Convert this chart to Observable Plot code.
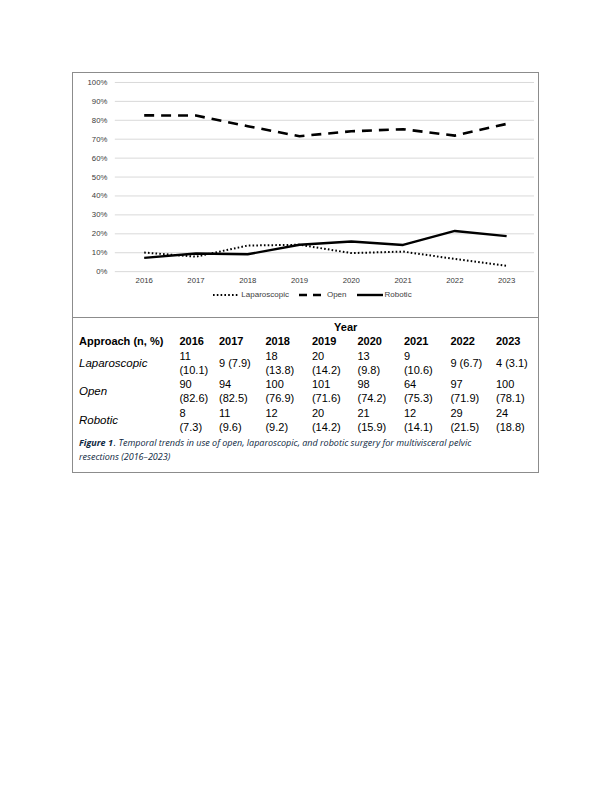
<!DOCTYPE html>
<html>
<head>
<meta charset="utf-8">
<script src="https://cdn.jsdelivr.net/npm/d3@7"></script>
<script src="https://cdn.jsdelivr.net/npm/@observablehq/plot@0.6"></script>
<style>
  html, body { margin: 0; padding: 0; background: #fff; }
  body { width: 612px; height: 792px; position: relative; font-family: "Liberation Sans", Arial, sans-serif; }
  #box { position: absolute; left: 72px; top: 72px; width: 467px; height: 401px; border: 1px solid #8c8c8c; box-sizing: border-box; }
  #chartArea { position: relative; height: 245px; border-bottom: 1px solid #8c8c8c; box-sizing: border-box; }
  #legend { position: absolute; top: 217px; left: 0; width: 100%; display: flex; justify-content: center; padding-left: 14px; box-sizing: border-box; font-size: 8px; color: #404040; gap: 10px; align-items: center; }
  #legend .item { display: flex; align-items: center; gap: 2px; }
  #tableArea { padding: 2px 6px 0 6px; color: #000; }
  table { border-collapse: collapse; table-layout: fixed; font-family: "Liberation Sans", Arial, sans-serif; font-size: 11px; line-height: 14.3px; }
  td, th { padding: 0; text-align: left; vertical-align: middle; }
  th { font-weight: bold; font-size: 11px; }
  td.lab { font-style: italic; font-size: 11.5px; }
  td .c { white-space: normal; }
  #caption { font-family: "Open Sans", sans-serif; font-style: italic; font-size: 9px; line-height: 13.5px; color: #0e2841; margin-top: 2px; }
  #caption div { white-space: nowrap; }
  #caption b { margin-right: 1px; }
</style>
</head>
<body>
<div id="box">
  <div id="chartArea"><div id="legend"></div></div>
  <div id="tableArea"></div>
</div>
<script>
const years = [2016, 2017, 2018, 2019, 2020, 2021, 2022, 2023];
const approaches = ["Laparoscopic", "Open", "Robotic"];
const lapN = [11, 9, 18, 20, 13, 9, 9, 4];
const lapPct = [10.1, 7.9, 13.8, 14.2, 9.8, 10.6, 6.7, 3.1];
const openN = [90, 94, 100, 101, 98, 64, 97, 100];
const openPct = [82.6, 82.5, 76.9, 71.6, 74.2, 75.3, 71.9, 78.1];
const robN = [8, 11, 12, 20, 21, 12, 29, 24];
const robPct = [7.3, 9.6, 9.2, 14.2, 15.9, 14.1, 21.5, 18.8];
const yTicks = [0, 0.1, 0.2, 0.3, 0.4, 0.5, 0.6, 0.7, 0.8, 0.9, 1.0];
const captionBold = "Figure 1";
const captionLine1 = ". Temporal trends in use of open, laparoscopic, and robotic surgery for multivisceral pelvic";
const captionLine2 = "resections (2016\u20132023)";

const styles = {
  Laparoscopic: { dash: "1.6,2.2", width: 2, cap: "butt" },
  Open: { dash: "10,7", width: 2.6, cap: "butt" },
  Robotic: { dash: null, width: 2.4, cap: "butt" }
};

const seriesN = { Laparoscopic: lapN, Open: openN, Robotic: robN };
const seriesPct = { Laparoscopic: lapPct, Open: openPct, Robotic: robPct };

const rows = [];
for (const a of approaches) {
  years.forEach((y, i) => rows.push({ approach: a, year: String(y), value: seriesPct[a][i] / 100 }));
}

const lineMarks = approaches.map(a => Plot.line(rows.filter(d => d.approach === a), {
  x: "year", y: "value", stroke: "#000",
  strokeWidth: styles[a].width,
  strokeDasharray: styles[a].dash || undefined,
  strokeLinecap: styles[a].cap,
  strokeLinejoin: "round"
}));

const chart = Plot.plot({
  width: 467,
  height: 217,
  marginLeft: 42,
  marginRight: 4,
  marginTop: 9,
  marginBottom: 18,
  style: { fontFamily: "Liberation Sans, Arial, sans-serif", fontSize: "7.8px", color: "#3a3a3a", background: "transparent" },
  x: { type: "point", domain: years.map(String), padding: 0.5, label: null, tickSize: 0, tickPadding: 6 },
  y: { domain: [0, 1], ticks: yTicks, tickFormat: d3.format(".0%"), label: null, tickSize: 0, tickPadding: 8 },
  marks: [
    Plot.gridY(yTicks, { stroke: "#d9d9d9", strokeOpacity: 1, strokeWidth: 1 }),
    ...lineMarks,
    Plot.axisX({ tickSize: 0, tickPadding: 6, label: null }),
    Plot.axisY(yTicks, { tickSize: 0, tickPadding: 8, tickFormat: d3.format(".0%"), label: null })
  ]
});
document.getElementById("chartArea").prepend(chart);

// Legend
const legend = document.getElementById("legend");
for (const a of approaches) {
  const item = document.createElement("div");
  item.className = "item";
  const s = styles[a];
  item.innerHTML = `<svg width="26" height="6"><line x1="0" y1="3" x2="26" y2="3" stroke="#000" stroke-width="${s.width}" ${s.dash ? `stroke-dasharray="${a === 'Open' ? '8,6' : s.dash}"` : ""}/></svg><span>${a}</span>`;
  legend.appendChild(item);
}

// Table
const colWidths = [102, 40, 47, 47, 46, 47, 47, 46, 33];
const contentWidths = [30, 36, 36, 36, 36, 36, 36, 36];
let html = "<table><colgroup>" + colWidths.map(w => `<col style="width:${w}px">`).join("") + "</colgroup>";
html += `<tr><td></td><th colspan="${years.length}" style="text-align:center;padding-right:20px">Year</th></tr>`;
html += `<tr><th>Approach (n, %)</th>${years.map(y => `<th>${y}</th>`).join("")}</tr>`;
for (const a of approaches) {
  html += `<tr style="height:28.6px"><td class="lab">${a}</td>`;
  years.forEach((y, i) => {
    html += `<td><div class="c" style="width:${contentWidths[i]}px">${seriesN[a][i]} (${seriesPct[a][i].toFixed(1)})</div></td>`;
  });
  html += "</tr>";
}
html += "</table>";
html += `<div id="caption"><div><b>${captionBold}</b><span>${captionLine1}</span></div><div>${captionLine2}</div></div>`;
document.getElementById("tableArea").innerHTML = html;
</script>
</body>
</html>
